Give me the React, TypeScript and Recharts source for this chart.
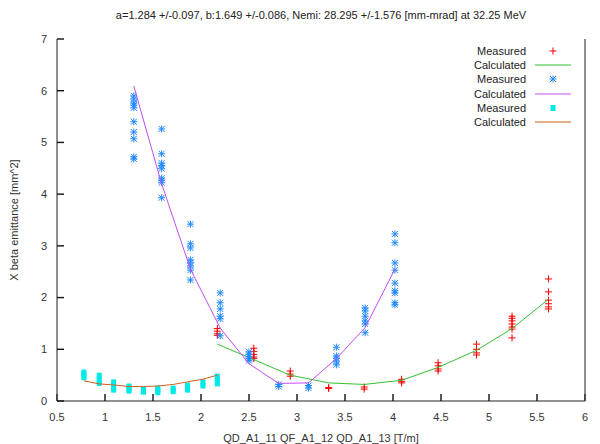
import React from "react";
import { ScatterChart, Scatter, XAxis, YAxis } from "recharts";

// Measured points (red crosses) and the green calculated curve
const redX = [2.17, 2.55, 2.93, 3.33, 3.7, 4.09, 4.47, 4.87, 5.24, 5.62];
const redY = [
  [1.4, 1.35, 1.3, 1.27],
  [1.02, 0.96, 0.9, 0.85, 0.82],
  [0.58, 0.52, 0.48],
  [0.26, 0.24],
  [0.27, 0.23],
  [0.42, 0.38, 0.35],
  [0.74, 0.68, 0.62, 0.58],
  [1.1, 1.0, 0.93, 0.89],
  [1.64, 1.6, 1.55, 1.49, 1.43, 1.39, 1.22],
  [2.36, 2.11, 1.95, 1.88, 1.82, 1.78],
];
const greenY = [1.1, 0.8, 0.5, 0.35, 0.32, 0.4, 0.65, 0.98, 1.4, 1.97];

// Measured points (blue asterisks) and the magenta calculated curve
const blueX = [1.3, 1.59, 1.89, 2.2, 2.5, 2.81, 3.12, 3.41, 3.71, 4.02];
const blueY = [
  [5.9, 5.84, 5.76, 5.72, 5.67, 5.4, 5.2, 5.07, 4.72, 4.68],
  [5.26, 4.78, 4.6, 4.55, 4.49, 4.31, 4.27, 4.22, 3.93],
  [3.42, 3.04, 2.96, 2.73, 2.67, 2.61, 2.53, 2.34],
  [2.09, 1.9, 1.78, 1.64, 1.59, 1.26],
  [0.95, 0.9, 0.86, 0.82, 0.78],
  [0.32, 0.28],
  [0.3, 0.25],
  [1.04, 0.87, 0.83, 0.77, 0.7],
  [1.8, 1.74, 1.64, 1.55, 1.49, 1.32],
  [3.23, 3.06, 2.67, 2.53, 2.28, 2.13, 2.09, 1.9, 1.86],
];
const magentaY = [6.09, 4.2, 2.55, 1.41, 0.72, 0.34, 0.35, 0.82, 1.42, 2.55];

// Measured points (cyan squares) and the orange calculated curve
const cyanX = [0.78, 0.94, 1.09, 1.25, 1.4, 1.55, 1.71, 1.86, 2.02, 2.17];
const cyanY = [
  [0.55, 0.5, 0.46],
  [0.49, 0.42, 0.35],
  [0.36, 0.29, 0.22],
  [0.28, 0.24, 0.2],
  [0.22, 0.18],
  [0.24, 0.2, 0.17],
  [0.24, 0.19],
  [0.3, 0.26, 0.22],
  [0.36, 0.3],
  [0.47, 0.41, 0.34],
];
const orangeY = [0.39, 0.33, 0.31, 0.28, 0.28, 0.29, 0.32, 0.37, 0.42, 0.5];

const xTicks = [0.5, 1, 1.5, 2, 2.5, 3, 3.5, 4, 4.5, 5, 5.5, 6];
const yTicks = [0, 1, 2, 3, 4, 5, 6, 7];

const RED = "#ff0000";
const GREEN = "#33c033";
const BLUE = "#1e88ff";
const MAGENTA = "#c44cf4";
const CYAN = "#00e8e8";
const ORANGE = "#d2601e";
const FONT = "'Liberation Sans', Arial, sans-serif";

const points = (xs: number[], ys: number[][]) =>
  xs.flatMap((x, i) => ys[i].map((y) => ({ x, y })));
const curve = (xs: number[], ys: number[]) => xs.map((x, i) => ({ x, y: ys[i] }));

const redData = points(redX, redY);
const greenData = curve(redX, greenY);
const blueData = points(blueX, blueY);
const magentaData = curve(blueX, magentaY);
const cyanData = points(cyanX, cyanY);
const orangeData = curve(cyanX, orangeY);

const Cross = ({ cx, cy }: any) => (
  <path d={`M${cx - 3.5},${cy}H${cx + 3.5}M${cx},${cy - 3.5}V${cy + 3.5}`} stroke={RED} strokeWidth={1} />
);
const Star = ({ cx, cy }: any) => (
  <path
    d={`M${cx - 3.5},${cy}H${cx + 3.5}M${cx},${cy - 3.5}V${cy + 3.5}M${cx - 3},${cy - 3}L${cx + 3},${cy + 3}M${cx - 3},${cy + 3}L${cx + 3},${cy - 3}`}
    stroke={BLUE}
    strokeWidth={1}
  />
);
const Square = ({ cx, cy }: any) => <rect x={cx - 2.5} y={cy - 3} width={5} height={6} fill={CYAN} />;
const NoDot = () => <g />;

const tickFont = { fontSize: 11, fill: "#333", fontFamily: FONT };
const tickStroke = { stroke: "#111", strokeWidth: 1.4 };
const blank = () => "";

const legendRows = [
  { label: "Measured", kind: "cross" },
  { label: "Calculated", kind: "line", color: GREEN },
  { label: "Measured", kind: "star" },
  { label: "Calculated", kind: "line", color: MAGENTA },
  { label: "Measured", kind: "square" },
  { label: "Calculated", kind: "line", color: ORANGE },
];

const LegendBox = () => (
  <div style={{ position: "absolute", left: 440, top: 44, fontFamily: FONT, fontSize: 11, color: "#222" }}>
    {legendRows.map((r, i) => (
      <div key={i} style={{ display: "flex", alignItems: "center", height: 14.2 }}>
        <span style={{ width: 86, textAlign: "right", lineHeight: "14px" }}>{r.label}</span>
        <svg width={45} height={14}>
          {r.kind === "line" && <line x1={9} x2={45} y1={7} y2={7} stroke={r.color} strokeWidth={1} />}
          {r.kind === "cross" && <Cross cx={27} cy={7} />}
          {r.kind === "star" && <Star cx={27} cy={7} />}
          {r.kind === "square" && <Square cx={27} cy={7} />}
        </svg>
      </div>
    ))}
  </div>
);

export default function App() {
  return (
    <div style={{ position: "absolute", left: 0, top: 0, width: 600, height: 444, background: "#fff" }}>
      <ScatterChart width={600} height={444} margin={{ top: 39, right: 0, bottom: 0, left: 0 }}>
        {/* negative tickSize turns the gnuplot-style tick marks inward */}
        <XAxis
          xAxisId="b"
          type="number"
          dataKey="x"
          domain={[0.5, 6]}
          ticks={xTicks}
          interval={0}
          height={43}
          tickSize={-7}
          tickMargin={19}
          axisLine={{ stroke: "#222", strokeWidth: 1.2 }}
          tickLine={tickStroke}
          tick={tickFont}
          label={{ value: "QD_A1_11 QF_A1_12 QD_A1_13 [T/m]", position: "insideBottom", offset: 2, fontSize: 11, fill: "#333", fontFamily: FONT }}
        />
        <XAxis
          xAxisId="t"
          orientation="top"
          type="number"
          dataKey="x"
          domain={[0.5, 6]}
          ticks={xTicks}
          interval={0}
          height={0}
          tickSize={-7}
          tickFormatter={blank}
          axisLine={{ stroke: "#444", strokeWidth: 1.2 }}
          tickLine={tickStroke}
        />
        <YAxis
          yAxisId="l"
          type="number"
          dataKey="y"
          domain={[0, 7]}
          ticks={yTicks}
          interval={0}
          width={57}
          tickSize={-7}
          tickMargin={17}
          axisLine={{ stroke: "#444", strokeWidth: 1.2 }}
          tickLine={tickStroke}
          tick={tickFont}
          label={{ value: "X beta emittance [mm^2]", angle: -90, position: "insideLeft", offset: 14, style: { textAnchor: "middle" }, fontSize: 11, fill: "#333", fontFamily: FONT }}
        />
        <YAxis
          yAxisId="r"
          orientation="right"
          type="number"
          dataKey="y"
          domain={[0, 7]}
          ticks={yTicks}
          interval={0}
          width={15}
          tickSize={-7}
          tickFormatter={blank}
          axisLine={{ stroke: "#444", strokeWidth: 1.2 }}
          tickLine={tickStroke}
        />
        <Scatter xAxisId="b" yAxisId="l" data={redData} shape={Cross} isAnimationActive={false} />
        <Scatter xAxisId="b" yAxisId="l" data={greenData} line={{ stroke: GREEN, strokeWidth: 1 }} shape={NoDot} isAnimationActive={false} />
        <Scatter xAxisId="b" yAxisId="l" data={blueData} shape={Star} isAnimationActive={false} />
        <Scatter xAxisId="b" yAxisId="l" data={magentaData} line={{ stroke: MAGENTA, strokeWidth: 1 }} shape={NoDot} isAnimationActive={false} />
        <Scatter xAxisId="b" yAxisId="l" data={cyanData} shape={Square} isAnimationActive={false} />
        <Scatter xAxisId="b" yAxisId="l" data={orangeData} line={{ stroke: ORANGE, strokeWidth: 1 }} shape={NoDot} isAnimationActive={false} />
        <text x={321} y={19} textAnchor="middle" fontSize={11} fill="#222" fontFamily={FONT}>
          a=1.284 +/-0.097, b:1.649 +/-0.086, Nemi: 28.295 +/-1.576 [mm-mrad] at 32.25 MeV
        </text>
      </ScatterChart>
      <LegendBox />
    </div>
  );
}
